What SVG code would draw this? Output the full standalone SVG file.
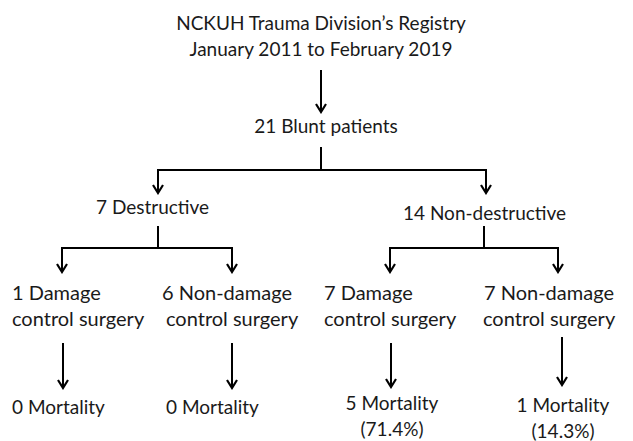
<svg xmlns="http://www.w3.org/2000/svg" width="633" height="441" viewBox="0 0 633 441">
<defs>
<marker id="ah" viewBox="0 0 12 12" refX="10" refY="6" markerWidth="12" markerHeight="12" markerUnits="userSpaceOnUse" orient="auto">
<path d="M2,1 L10,6 L2,11" fill="none" stroke="#000" stroke-width="2.2"/>
</marker>
<style>
text{font-family:Lato,"Liberation Sans",sans-serif;font-size:19px;fill:#1a1a1a}
.c{text-anchor:middle}
.b{font-size:20px}
.ln{fill:none;stroke:#000;stroke-width:2}
.ar{fill:none;stroke:#000;stroke-width:2;marker-end:url(#ah)}
</style>
</defs>
<rect width="633" height="441" fill="#fff"/>
<g id="registry"><text class="c" x="321" y="30">NCKUH Trauma Division’s Registry</text><text class="c" x="321" y="56">January 2011 to February 2019</text></g>
<g id="blunt"><text class="c" x="326" y="133">21 Blunt patients</text></g>
<g id="destructive"><text x="96" y="214">7 Destructive</text></g>
<g id="nondestructive"><text x="403" y="220">14 Non-destructive</text></g>
<g id="dcs1"><text class="b" x="12" y="300">1 Damage</text><text class="b" x="12" y="326">control surgery</text></g>
<g id="ndcs6"><text class="b" x="162" y="300">6 Non-damage</text><text class="b" x="166" y="326">control surgery</text></g>
<g id="dcs7"><text class="b" x="324" y="300">7 Damage</text><text class="b" x="324" y="326">control surgery</text></g>
<g id="ndcs7"><text class="b" x="484" y="300">7 Non-damage</text><text class="b" x="483" y="326">control surgery</text></g>
<g id="mort0a"><text x="12" y="414">0 Mortality</text></g>
<g id="mort0b"><text x="166" y="414">0 Mortality</text></g>
<g id="mort5"><text class="c" x="392" y="410">5 Mortality</text><text class="c" x="392" y="436">(71.4%)</text></g>
<g id="mort1"><text class="c" x="563" y="412">1 Mortality</text><text class="c" x="563" y="438">(14.3%)</text></g>
<g id="connectors">
<path class="ar" d="M321,70 V112"/>
<path class="ln" d="M321,147 V170 M158,170 H486"/>
<path class="ar" d="M158,169 V193"/>
<path class="ar" d="M486,169 V193"/>
<path class="ln" d="M158,226 V248 M62,248 H232 M484,226 V248 M390,248 H558"/>
<path class="ar" d="M62,247 V272"/>
<path class="ar" d="M232,247 V272"/>
<path class="ar" d="M390,247 V272"/>
<path class="ar" d="M558,247 V272"/>
<path class="ar" d="M63,343 V388"/>
<path class="ar" d="M232,343 V388"/>
<path class="ar" d="M391,343 V387"/>
<path class="ar" d="M562,337 V385"/>
</g>
</svg>
